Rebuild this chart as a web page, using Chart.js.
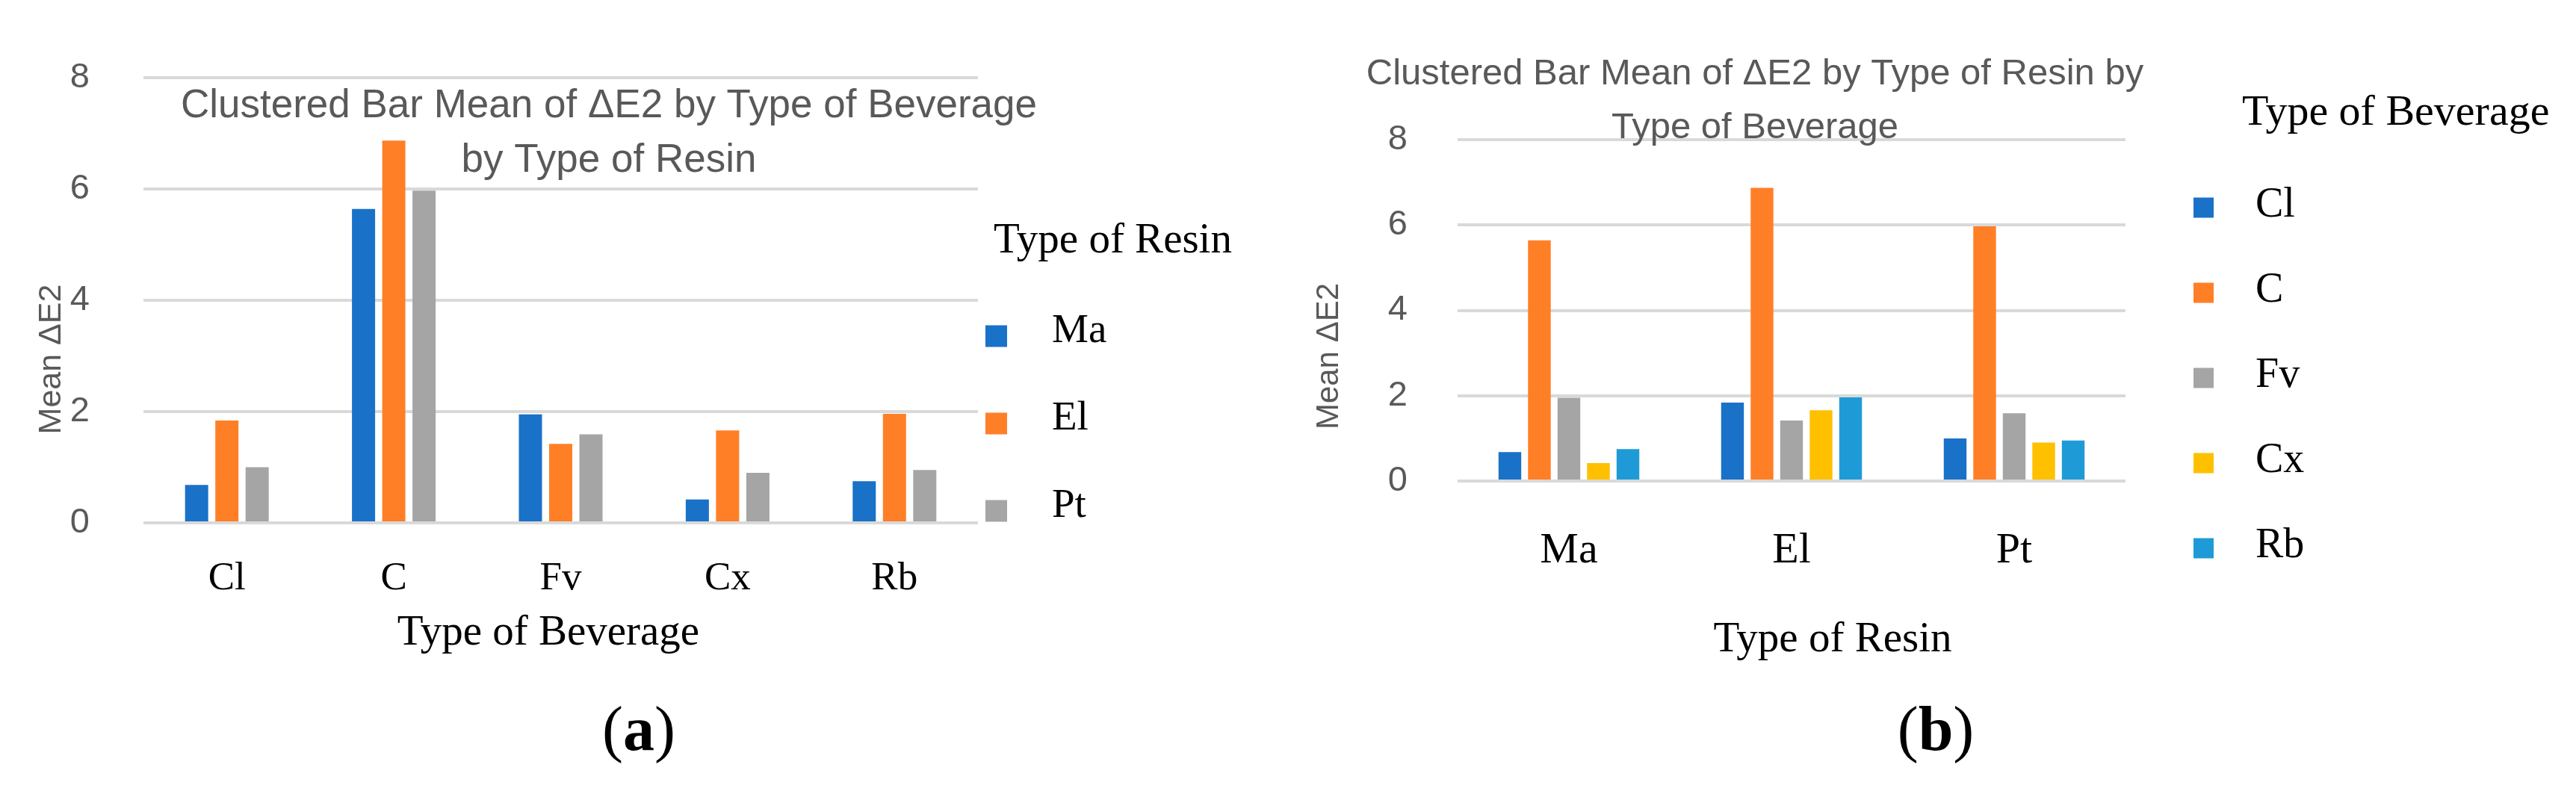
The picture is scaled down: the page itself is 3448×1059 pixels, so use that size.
<!DOCTYPE html>
<html>
<head>
<meta charset="utf-8">
<script src="https://cdn.jsdelivr.net/npm/chart.js@4.4.1/dist/chart.umd.min.js"></script>
<style>
  html, body { margin: 0; padding: 0; background: #fff; }
  body { width: 3448px; height: 1059px; position: relative; overflow: hidden; }
  canvas { position: absolute; top: 0; }
  #chartA { left: 0; }
  #chartB { left: 1724px; }
  .cap { position: absolute; top: 934px; font-family: "Liberation Serif", serif; font-size: 84px; line-height: 1; color: #000; transform: translateX(-50%); }
</style>
</head>
<body>
<canvas id="chartA" width="1724" height="1059"></canvas>
<canvas id="chartB" width="1724" height="1059"></canvas>
<div class="cap" style="left:855px">(<b>a</b>)</div>
<div class="cap" style="left:2591px">(<b>b</b>)</div>
<script>
const beverages = ["Cl", "C", "Fv", "Cx", "Rb"]
const resins = ["Ma", "El", "Pt"]

// mean dE2 per resin, in beverage order
const maValues = [0.68, 5.64, 1.95, 0.42, 0.75]
const elValues = [1.84, 6.87, 1.42, 1.66, 1.96]
const ptValues = [1.00, 5.97, 1.59, 0.90, 0.95]

const yTicks = [0, 2, 4, 6, 8]

const resinColors = ["#1a71c8", "#ff7f27", "#a5a5a5"]
const beverageColors = ["#1a71c8", "#ff7f27", "#a5a5a5", "#ffc000", "#1e9bd7"]

const sansFont = '"Liberation Sans", Arial, sans-serif'
const serifFont = '"Liberation Serif", "Times New Roman", serif'

// titles, axis titles and legends drawn on top of the plot
const panelText = {
    id: "panelText",
    afterDraw(chart, args, opts) {
        const ctx = chart.ctx
        ctx.save()
        ctx.textBaseline = "alphabetic"
        ctx.textAlign = "center"
        ctx.fillStyle = "#595959"
        ctx.font = opts.titleFont
        opts.title.forEach((line, i) => ctx.fillText(line, opts.titleX, opts.titleY[i]))

        ctx.save()
        ctx.translate(opts.yTitleX, opts.yTitleY)
        ctx.rotate(-Math.PI / 2)
        ctx.font = opts.yTitleFont
        ctx.textBaseline = "middle"
        ctx.fillText(opts.yTitle, 0, 0)
        ctx.restore()

        ctx.fillStyle = "#000"
        ctx.font = opts.xTitleFont
        ctx.fillText(opts.xTitle, opts.xTitleX, opts.xTitleY)

        ctx.textAlign = "left"
        ctx.font = opts.legendTitleFont
        ctx.fillText(opts.legendTitle, opts.legendTitleX, opts.legendTitleY)

        ctx.font = opts.legendFont
        chart.data.datasets.forEach((ds, i) => {
            const cy = opts.legendY + i * opts.legendStep
            ctx.fillStyle = ds.backgroundColor
            ctx.fillRect(opts.legendX, cy - opts.legendBox / 2, opts.legendBox, opts.legendBox)
            ctx.fillStyle = "#000"
            ctx.fillText(ds.label, opts.legendTextX, cy + opts.legendDy)
        })
        ctx.restore()
    }
}

function makeScales(yWidth, yPad, xHeight, xPad, xFontSize) {
    return {
        x: {
            grid: { display: false },
            border: { display: false },
            ticks: { color: "#000", padding: xPad, font: { family: serifFont, size: xFontSize } },
            afterFit: (scale) => { scale.height = xHeight }
        },
        y: {
            min: 0,
            max: 8,
            afterBuildTicks: (scale) => { scale.ticks = yTicks.map((v) => ({ value: v })) },
            grid: { color: "#d9d9d9", lineWidth: 4, drawTicks: false },
            border: { display: false },
            ticks: { color: "#595959", padding: yPad, font: { family: sansFont, size: 47 } },
            afterFit: (scale) => { scale.width = yWidth }
        }
    }
}

const resinSeries = [maValues, elValues, ptValues]

// (a) bars by beverage, grouped by resin
new Chart(document.querySelector("#chartA"), {
    type: "bar",
    data: {
        labels: beverages,
        datasets: resins.map((r, i) => ({
            label: r,
            data: resinSeries[i],
            backgroundColor: resinColors[i],
            barPercentage: 0.765,
            categoryPercentage: 0.544
        }))
    },
    options: {
        responsive: false,
        animation: false,
        devicePixelRatio: 1,
        layout: { padding: { left: 0, right: 415, top: 104, bottom: 0 } },
        scales: makeScales(192, 72, 359, 35, 53),
        plugins: {
            legend: { display: false },
            tooltip: { enabled: false },
            panelText: {
                title: ["Clustered Bar Mean of \u0394E2 by Type of Beverage", "by Type of Resin"],
                titleX: 815, titleY: [157, 230], titleFont: "53px " + sansFont,
                yTitle: "Mean \u0394E2", yTitleX: 69, yTitleY: 481, yTitleFont: "43px " + sansFont,
                xTitle: "Type of Beverage", xTitleX: 734, xTitleY: 863, xTitleFont: "57px " + serifFont,
                legendTitle: "Type of Resin", legendTitleX: 1330, legendTitleY: 338, legendTitleFont: "57px " + serifFont,
                legendFont: "55px " + serifFont,
                legendX: 1319, legendBox: 29, legendY: 450, legendStep: 117,
                legendTextX: 1408, legendDy: 8
            }
        }
    },
    plugins: [panelText]
})

// (b) bars by resin, grouped by beverage
new Chart(document.querySelector("#chartB"), {
    type: "bar",
    data: {
        labels: resins,
        datasets: beverages.map((b, j) => ({
            label: b,
            data: resinSeries.map((vals) => vals[j]),
            backgroundColor: beverageColors[j],
            barPercentage: 0.77,
            categoryPercentage: 0.663
        }))
    },
    options: {
        responsive: false,
        animation: false,
        devicePixelRatio: 1,
        layout: { padding: { left: 0, right: 603, top: 187, bottom: 0 } },
        scales: makeScales(227, 67, 415, 51, 58),
        plugins: {
            legend: { display: false },
            tooltip: { enabled: false },
            panelText: {
                title: ["Clustered Bar Mean of \u0394E2 by Type of Resin by", "Type of Beverage"],
                titleX: 625, titleY: [113, 185], titleFont: "49px " + sansFont,
                yTitle: "Mean \u0394E2", yTitleX: 55, yTitleY: 477, yTitleFont: "42px " + sansFont,
                xTitle: "Type of Resin", xTitleX: 729, xTitleY: 872, xTitleFont: "57px " + serifFont,
                legendTitle: "Type of Beverage", legendTitleX: 1277, legendTitleY: 167, legendTitleFont: "58px " + serifFont,
                legendFont: "56px " + serifFont,
                legendX: 1212, legendBox: 27, legendY: 278, legendStep: 114,
                legendTextX: 1295, legendDy: 12
            }
        }
    },
    plugins: [panelText]
})
</script>
</body>
</html>
